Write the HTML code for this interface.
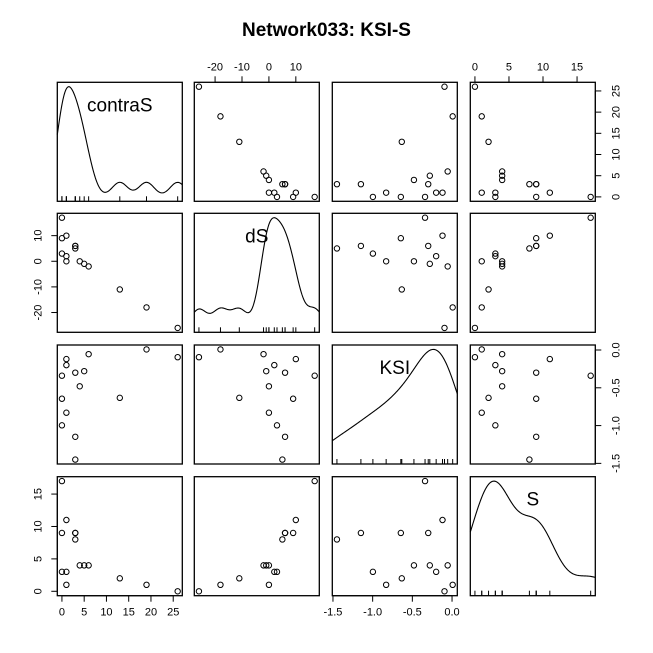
<!DOCTYPE html>
<html><head><meta charset="utf-8"><style>
html,body{margin:0;padding:0;background:#fff;}
svg{display:block;font-family:"Liberation Sans",Arial,sans-serif;}
</style></head><body>
<svg id="chart" width="653" height="653" viewBox="0 0 653 653">
<text x="326.5" y="36" text-anchor="middle" font-size="19" font-weight="bold">Network033: KSI-S</text>
</svg>
<script>
const varNames = ["contraS","dS","KSI","S"];
const contraS = [0,0,1,0,1,1,3,3,3,4,5,6,13,19,26];
const dS = [17,9,10,3,2,0,6,6,5,0,-1,-2,-11,-18,-26];
const KSI = [-0.34,-0.645,-0.12,-0.997,-0.20,-0.83,-1.148,-0.30,-1.45,-0.48,-0.28,-0.055,-0.633,0.008,-0.095];
const S = [17,9,11,3,3,1,9,9,8,4,4,4,2,1,0];
const ticks_contraS = [0,5,10,15,20,25];
const ticks_dS = [-20,-10,0,10];
const ticks_KSI = [-1.5,-1.0,-0.5,0.0];
const ticks_S = [0,5,10,15];
const tickLabels_KSI = ["-1.5","-1.0","-0.5","0.0"];

const data = [contraS, dS, KSI, S];
const tickSets = [ticks_contraS, ticks_dS, ticks_KSI, ticks_S];
const colX = [57.3,194.3,332.3,470.3], W = 125;
const rowY = [82.3,213.3,345,476.7], H = 119;
const NS = "http://www.w3.org/2000/svg";
const svg = document.getElementById("chart");

function mk(tag, attrs, parent){
  const e = document.createElementNS(NS, tag);
  for (const k in attrs) e.setAttribute(k, attrs[k]);
  (parent||svg).appendChild(e);
  return e;
}
function ext(a){
  const mn = Math.min(...a), mx = Math.max(...a), r = mx - mn;
  return [mn - 0.04*r, mx + 0.04*r];
}
const lims = data.map(ext);
function sx(j, v){ const l = lims[j]; return colX[j] + (v - l[0])/(l[1]-l[0])*W; }
function sy(i, v){ const l = lims[i]; return rowY[i] + H - (v - l[0])/(l[1]-l[0])*H; }
function fmt(j, k){ return j===2 ? tickLabels_KSI[k] : String(tickSets[j][k]); }

function sd(a){ const m=a.reduce((s,v)=>s+v,0)/a.length; return Math.sqrt(a.reduce((s,v)=>s+(v-m)*(v-m),0)/(a.length-1)); }
function quant(a,p){ const s=[...a].sort((x,y)=>x-y); const h=(s.length-1)*p; const lo=Math.floor(h); return s[lo]+(h-lo)*((s[Math.min(lo+1,s.length-1)])-s[lo]); }
function bw(a){ const lo=Math.min(sd(a),(quant(a,0.75)-quant(a,0.25))/1.34); return 0.9*lo*Math.pow(a.length,-0.2); }

for (let i=0;i<4;i++){
  for (let j=0;j<4;j++){
    const g = mk("g", {});
    
    
    const r = mk("rect", {x:colX[j], y:rowY[i], width:W, height:H, fill:"none", stroke:"#000", "stroke-width":1.3}, g);
    
    
    if (i===j){
      const a = data[i], h = bw(a), l = lims[i];
      const xs=[], ys=[];
      for (let k=0;k<=200;k++){
        const x = l[0] + (l[1]-l[0])*k/200;
        let d=0; for (const v of a){ const z=(x-v)/h; d+=Math.exp(-0.5*z*z); }
        d/= a.length*h*Math.sqrt(2*Math.PI);
        xs.push(x); ys.push(d);
      }
      const ymax = Math.max(...ys), y0 = -0.04*ymax, y1 = ymax*1.04;
      let p = "";
      xs.forEach((x,k)=>{ p += (k?"L":"M") + (colX[j]+(x-l[0])/(l[1]-l[0])*W).toFixed(2) + "," + (rowY[i]+H-(ys[k]-y0)/(y1-y0)*H).toFixed(2); });
      const path = mk("path", {d:p, fill:"none", stroke:"#000", "stroke-width":1.1}, g);
      
      
      a.forEach(v=>{
        const t = mk("line", {x1:sx(j,v), x2:sx(j,v), y1:rowY[i]+H, y2:rowY[i]+H-5, stroke:"#000", "stroke-width":1}, g);
        
        
      });
      const lab = mk("text", {x:colX[j]+W/2, y:rowY[i]+29, "text-anchor":"middle", "font-size":19}, g);
      lab.textContent = varNames[i];
      
      
    } else {
      const xa = data[j], ya = data[i];
      xa.forEach((v,k)=>{
        const c = mk("circle", {cx:sx(j,v), cy:sy(i,ya[k]), r:2.7, fill:"none", stroke:"#000", "stroke-width":1}, g);
        
        
      });
    }
  }
}

function axis(side, idx){
  const g = mk("g", {});
  
  
  const t = tickSets[idx];
  t.forEach((v,k)=>{
    let x1,y1,x2,y2,tx,ty,rot=false;
    if (side==="top"){ x1=x2=sx(idx,v); y1=colTop=rowY[0]; y2=y1-6; tx=x1; ty=y1-12; }
    else if (side==="bottom"){ x1=x2=sx(idx,v); y1=rowY[3]+H; y2=y1+6; tx=x1; ty=y1+20; }
    else if (side==="left"){ y1=y2=sy(idx,v); x1=colX[0]; x2=x1-6; tx=x1-16; ty=y1; rot=true; }
    else { y1=y2=sy(idx,v); x1=colX[3]+W; x2=x1+6; tx=x1+16; ty=y1; rot=true; }
    const ln = mk("line", {x1,y1,x2,y2,stroke:"#000","stroke-width":1}, g);
    
    
    const tx_ = mk("text", {x:tx, y:ty, "text-anchor":"middle", "font-size":11}, g);
    if (rot){ tx_.setAttribute("transform", "rotate(-90 "+tx+" "+ty+")"); tx_.setAttribute("dy", side==="left" ? "0" : "8"); }
    tx_.textContent = fmt(idx,k);
    
    
  });
  let l1, l2;
  if (side==="top"||side==="bottom"){ const y = side==="top"?rowY[0]:rowY[3]+H;
    mk("line",{x1:sx(idx,t[0]),x2:sx(idx,t[t.length-1]),y1:y,y2:y,stroke:"#000","stroke-width":1},g);
  } else { const x = side==="left"?colX[0]:colX[3]+W;
    mk("line",{y1:sy(idx,t[0]),y2:sy(idx,t[t.length-1]),x1:x,x2:x,stroke:"#000","stroke-width":1},g);
  }
}
var colTop;
axis("top",1); axis("top",3);
axis("bottom",0); axis("bottom",2);
axis("left",1); axis("left",3);
axis("right",0); axis("right",2);
</script>
</body></html>
